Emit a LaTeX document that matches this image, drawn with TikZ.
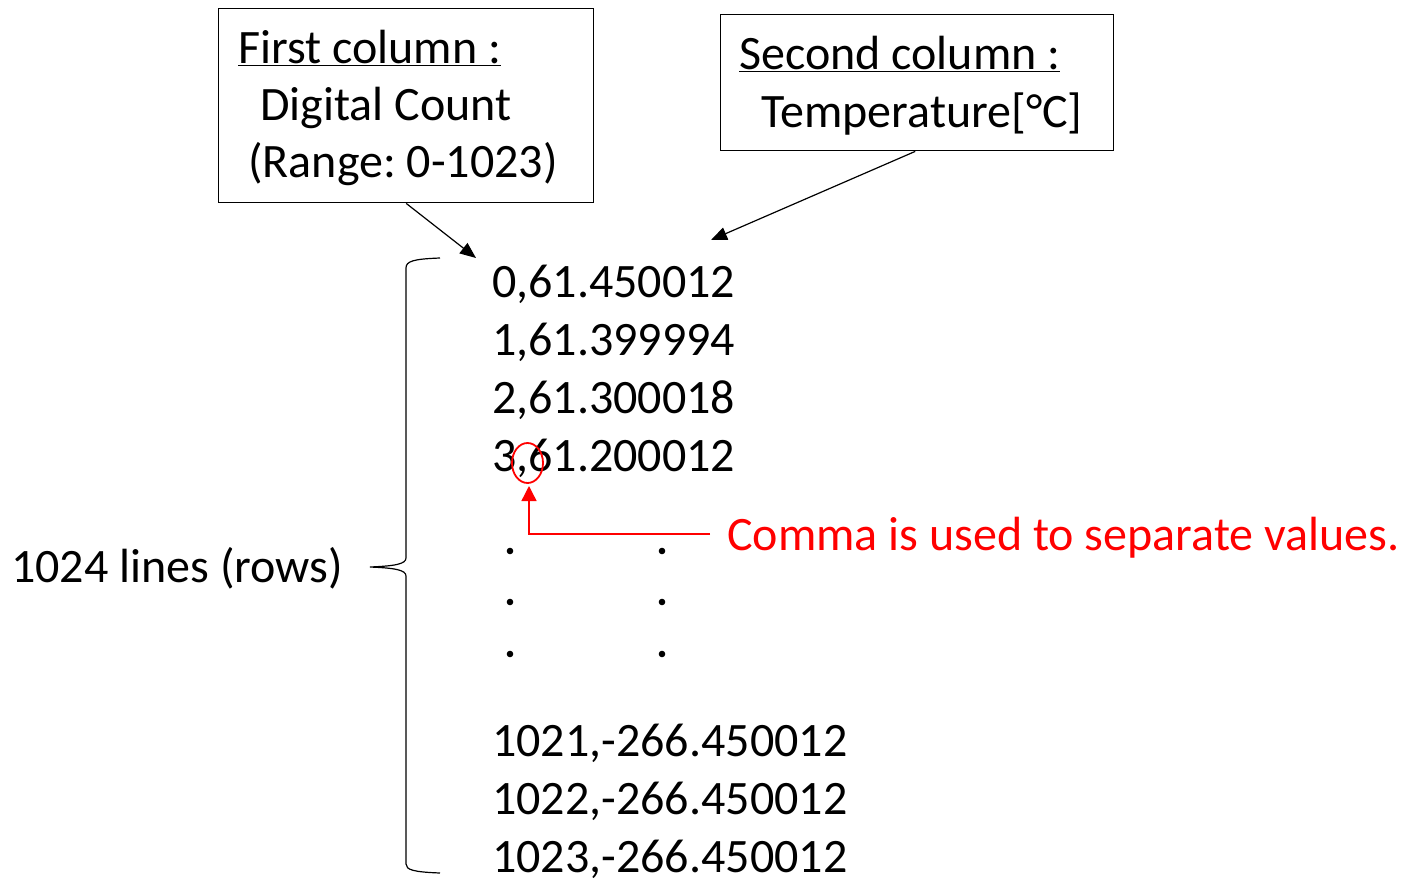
\documentclass[tikz,border=0pt]{standalone}
\usepackage{fontspec}
\setmainfont{Carlito}
\usepackage{xcolor}
\usetikzlibrary{arrows.meta}
\frenchspacing
\tikzset{
  txt/.style={inner sep=0pt,anchor=base west,font=\fontsize{48}{57}\selectfont},
  frame/.style={draw,line width=1.4pt,inner sep=0pt,anchor=north west},
  pointer/.style={line width=1.2pt,-{Triangle[length=16pt,width=13pt]}},
  redline/.style={draw=red,line width=1.8pt},
}

\begin{document}
\begin{tikzpicture}[x=1pt,y=-1pt]
  \useasboundingbox (0,0) rectangle (1406,878);
  % column boxes
  \node[frame,minimum width=375pt,minimum height=194pt] (first) at (218,8) {};
  \node[txt] (firstA) at (238,63) {\underline{First column :}};
  \node[txt] (firstB) at (260,120) {Digital Count};
  \node[txt] (firstC) at (248,177) {(Range: 0-1023)};
  \node[frame,minimum width=393pt,minimum height=136pt] (second) at (720,14) {};
  \node[txt] (secondA) at (739,69) {\underline{Second column :}};
  \node[txt] (secondB) at (761,127) {Temperature[°C]};
  \coordinate (tipA) at (476,258);
  \coordinate (tipB) at (711,240);
  \draw[pointer] (first.south) -- (tipA);
  \draw[pointer] ([xshift=-2pt]second.south) -- (tipB);
  % data lines
  \foreach \i/\val [count=\k] in {0/61.450012,1/61.399994,2/61.300018,3/61.200012}
    \node[txt] (r\i) at (492,{297+58*(\k-1)}) {\i,\val};
  \foreach \y in {551,602,654} {
    \fill (510,\y) circle (3.3);
    \fill (662,\y) circle (3.3);
  }
  \foreach \i [count=\k] in {1021,1022,1023}
    \node[txt] (r\i) at (492,{756+58*(\k-1)}) {\i,-266.450012};
  % brace
  \draw[line width=1.2pt] (440,258) .. controls (414,259) and (406,261) .. (406,268)
    -- (406,558) .. controls (406,564) and (395,566) .. (370,567)
    .. controls (395,568) and (406,570) .. (406,576)
    -- (406,864) .. controls (406,870) and (414,872) .. (440,873);
  \node[txt] (lines) at (11,582) {1024 lines (rows)};
  % comma note
  \coordinate (sep) at (527.5,463);
  \draw[redline] (sep) ellipse [x radius=15.5, y radius=20];
  \node[txt,text=red] (comma) at (727,550) {Comma is used to separate values.};
  \coordinate (cstart) at (710,534);
  \coordinate (sepb) at (529,486);
  \draw[redline,line width=1.4pt,-{Triangle[length=15pt,width=15pt]}] (cstart) -| (sepb);
\end{tikzpicture}
\end{document}
